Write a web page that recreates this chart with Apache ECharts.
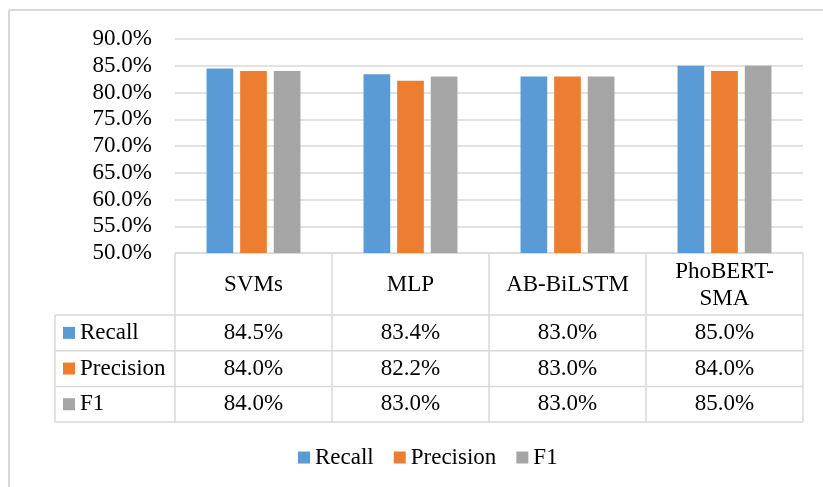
<!DOCTYPE html>
<html>
<head>
<meta charset="utf-8">
<script src="https://cdn.jsdelivr.net/npm/echarts@6/dist/echarts.min.js"></script>
<style>
  html, body { margin: 0; padding: 0; background: #fff; }
  #chart { width: 823px; height: 487px; }
</style>
</head>
<body>
<div id="chart"></div>
<script>
// Model scores (%)
const categories = ['SVMs', 'MLP', 'AB-BiLSTM', 'PhoBERT-\nSMA'];
const seriesNames = ['Recall', 'Precision', 'F1'];
const recall = [84.5, 83.4, 83.0, 85.0];
const precision = [84.0, 82.2, 83.0, 84.0];
const f1 = [84.0, 83.0, 83.0, 85.0];
const colors = ['#5B9BD5', '#ED7D31', '#A5A5A5'];

const FONT = '"Liberation Serif", "Times New Roman", serif';
const FS = 23;
const LINE = '#D9D9D9';
const W = 823, H = 487;

// plot area
const G = { left: 175, right: 20, top: 39, bottom: 234 };
const plotRight = W - G.right;
const plotBottom = H - G.bottom;

// data table rows under the plot
const headerH = 62, rowH = 35.7, labelColLeft = 55;

const chart = echarts.init(document.getElementById('chart'));

function buildTable() {
  const els = [];
  const n = categories.length;
  const colW = (plotRight - G.left) / n;
  const rowsTop = plotBottom + headerH;
  const tableBottom = rowsTop + rowH * seriesNames.length;
  const lineStyle = { stroke: LINE, lineWidth: 1.5 };
  const add = (x1, y1, x2, y2) => els.push({ type: 'line', shape: { x1, y1, x2, y2 }, style: lineStyle, silent: true });
  const font = FS + 'px ' + FONT;

  // horizontal lines
  add(G.left, plotBottom, plotRight, plotBottom);
  for (let r = 0; r <= seriesNames.length; r++) {
    const y = rowsTop + r * rowH;
    add(labelColLeft, y, plotRight, y);
  }
  // vertical lines
  add(labelColLeft, rowsTop, labelColLeft, tableBottom);
  for (let c = 0; c <= n; c++) {
    const x = G.left + c * colW;
    add(x, plotBottom, x, tableBottom);
  }
  // header labels
  categories.forEach((cat, i) => {
    els.push({
      type: 'text', silent: true,
      x: G.left + (i + 0.5) * colW, y: plotBottom + headerH / 2 + 1,
      style: { text: cat, font, fill: '#000', align: 'center', verticalAlign: 'middle', lineHeight: 27 }
    });
  });
  // rows
  const rows = [recall, precision, f1];
  rows.forEach((vals, r) => {
    const cy = rowsTop + (r + 0.5) * rowH;
    els.push({ type: 'rect', silent: true, shape: { x: labelColLeft + 8, y: cy - 6, width: 12, height: 12 }, style: { fill: colors[r] } });
    els.push({
      type: 'text', silent: true, x: labelColLeft + 25, y: cy,
      style: { text: seriesNames[r], font, fill: '#000', align: 'left', verticalAlign: 'middle' }
    });
    vals.forEach((v, i) => {
      els.push({
        type: 'text', silent: true, x: G.left + (i + 0.5) * colW, y: cy,
        style: { text: v.toFixed(1) + '%', font, fill: '#000', align: 'center', verticalAlign: 'middle' }
      });
    });
  });
  // chart frame (top and left edges)
  els.push({ type: 'line', silent: true, shape: { x1: 9, y1: 10, x2: W, y2: 10 }, style: { stroke: LINE, lineWidth: 2 } });
  els.push({ type: 'line', silent: true, shape: { x1: 9, y1: 10, x2: 9, y2: H }, style: { stroke: LINE, lineWidth: 2 } });
  return els;
}

const bar = (name, data, i) => ({
  name, type: 'bar', data,
  barWidth: '17%', barGap: '26%',
  itemStyle: { color: colors[i] }
});

chart.setOption({
  backgroundColor: '#fff',
  animation: false,
  textStyle: { fontFamily: FONT },
  grid: { left: G.left, right: G.right, top: G.top, bottom: G.bottom, containLabel: false },
  legend: {
    data: seriesNames,
    left: 293, top: 441,
    icon: 'rect', itemWidth: 12, itemHeight: 12, itemGap: 20,
    textStyle: { fontFamily: FONT, fontSize: FS, color: '#000' }
  },
  xAxis: {
    type: 'category', data: categories,
    axisLine: { show: false }, axisTick: { show: false }, axisLabel: { show: false }
  },
  yAxis: {
    type: 'value', min: 50, max: 90, interval: 5,
    axisLine: { show: false }, axisTick: { show: false },
    axisLabel: { formatter: v => v.toFixed(1) + '%', fontFamily: FONT, fontSize: FS, color: '#000', margin: 23 },
    splitLine: { lineStyle: { color: LINE, width: 1.5 } }
  },
  series: [bar('Recall', recall, 0), bar('Precision', precision, 1), bar('F1', f1, 2)],
  graphic: buildTable()
});
</script>
</body>
</html>
